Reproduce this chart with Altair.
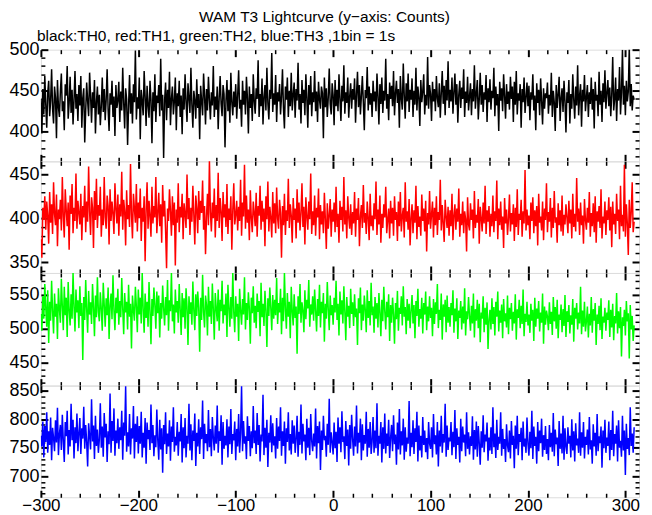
import altair as alt
import pandas as pd

TITLE = "WAM T3 Lightcurve (y\u2212axis: Counts)"
SUBTITLE = "black:TH0, red:TH1, green:TH2, blue:TH3 ,1bin = 1s"
T_START = -300  # first 1 s bin

TH0 = [
440,398,452,421,468,433,405,447,462,419,438,476,428,410,455,441,392,463,430,418,
449,471,425,437,402,458,444,480,416,435,467,423,451,409,439,474,428,446,413,457,
432,468,405,441,453,387,426,460,437,419,472,444,411,448,429,463,398,436,455,421,
445,408,431,466,424,452,414,439,476,427,401,447,433,462,418,443,395,457,429,438,
461,412,449,426,478,435,404,453,440,384,431,469,422,447,410,458,436,499,415,442,
428,466,391,451,437,420,474,443,407,456,432,417,462,439,386,448,425,470,412,444,
435,457,419,489,426,445,368,438,460,414,451,429,473,408,440,455,421,437,466,402,
447,431,462,418,444,397,453,427,470,436,412,459,441,423,478,433,405,450,438,416,
464,429,446,391,456,437,420,471,444,409,452,426,467,439,415,448,432,480,418,443,
427,455,403,441,468,434,419,457,446,381,438,463,425,451,411,472,436,420,449,430,
458,416,444,475,428,439,406,462,433,450,421,467,441,398,455,429,446,413,470,437,
422,453,440,487,418,446,431,465,409,442,457,426,478,435,415,451,440,496,424,447,
433,469,412,448,437,458,421,443,476,429,404,455,439,466,418,450,431,472,426,445,
460,417,452,438,484,427,446,410,463,435,451,420,470,441,405,457,433,468,419,448,
436,474,425,449,412,461,439,428,455,447,392,466,430,453,418,442,477,434,421,459,
444,408,463,431,451,425,470,440,413,456,437,481,422,448,435,466,417,443,459,428,
452,439,465,411,446,473,430,457,421,444,468,436,402,451,441,479,426,455,433,447,
418,462,437,449,425,471,443,409,458,434,466,423,450,438,489,428,446,414,460,440,
456,431,474,420,447,462,435,452,405,468,441,427,483,444,416,459,437,471,424,451,
439,465,418,450,433,478,426,455,442,407,463,436,449,470,421,445,432,491,428,457,
446,413,461,437,452,425,468,441,430,459,417,447,474,434,456,420,463,438,486,429,
451,437,466,422,448,471,433,458,411,445,462,429,454,440,476,418,449,435,467,426,
443,459,420,452,437,481,428,446,463,415,440,472,433,457,424,448,439,469,412,453,
436,464,427,450,441,478,419,455,432,446,401,461,438,453,425,470,444,416,458,434,
449,427,467,440,455,412,461,433,474,421,447,438,458,405,452,436,466,423,442,460,
431,456,414,448,439,470,426,444,402,459,435,451,420,465,437,409,453,428,447,441,
460,422,445,432,472,418,450,436,401,457,429,446,467,413,441,453,424,462,437,399,
448,435,463,410,446,428,470,439,416,455,432,481,420,444,458,406,451,437,469,425,
442,457,418,448,434,466,427,452,404,461,438,445,419,473,433,450,412,459,436,475,
428,447,463,431,454,419,445,491,426,440,466,413,452,438,479,421,448,500,433,456,
420,462,437,449,503,431,458,426,444,439]

TH1 = [
376,355,412,398,425,387,419,403,371,430,395,416,382,441,405,392,427,368,410,399,
421,386,447,402,378,433,409,391,418,364,426,405,439,383,412,397,451,388,420,406,
393,428,375,414,401,437,384,419,396,459,407,381,424,412,366,431,398,445,389,415,
403,436,379,410,392,447,401,388,426,414,370,433,397,419,405,382,440,411,394,427,
380,416,402,453,387,421,408,369,432,399,415,390,462,404,377,428,411,395,439,385,
418,400,434,374,412,396,425,351,409,441,388,420,403,379,436,394,414,401,447,383,
406,429,391,416,372,438,402,420,386,343,411,397,433,408,380,425,392,418,346,410,
395,440,384,413,401,428,376,417,405,389,450,399,423,381,412,396,437,404,370,426,
411,383,431,398,420,406,443,387,414,359,402,428,392,466,407,385,418,400,434,378,
415,397,452,389,423,408,374,430,401,416,390,439,382,411,398,425,364,409,440,393,
404,420,386,413,397,444,380,418,402,461,388,426,395,410,375,432,400,384,419,406,
391,429,379,414,403,437,387,420,396,411,368,425,399,442,385,413,401,378,430,394,
417,383,435,400,388,421,406,355,414,392,428,381,409,397,445,389,416,403,372,423,
398,411,377,433,395,418,386,406,440,390,413,370,424,402,387,419,399,451,382,408,
392,426,380,412,401,434,376,415,393,408,383,429,399,365,417,388,403,422,379,410,
396,418,384,436,390,405,372,420,398,413,385,447,393,409,377,425,401,388,416,381,
407,394,430,379,411,398,423,368,402,415,389,438,395,406,382,419,400,375,428,391,
403,386,417,399,442,381,410,393,426,372,405,389,416,401,436,383,398,411,377,420,
394,412,380,425,398,407,374,419,391,430,385,403,412,378,441,396,408,387,422,369,
400,416,383,409,395,437,376,414,390,402,380,427,397,411,385,420,362,406,393,431,
388,404,419,378,412,392,425,381,407,398,444,386,415,394,373,421,402,389,413,380,
409,391,428,375,403,416,387,411,396,434,379,405,392,419,383,408,399,362,424,393,
386,417,398,410,377,431,389,404,395,422,371,413,400,385,418,394,437,382,409,396,
414,379,405,391,426,384,408,397,443,376,411,392,419,387,402,366,423,394,410,381,
399,427,385,406,393,416,374,412,390,433,381,405,398,421,379,408,394,455,386,410,
392,403,376,418,397,424,383,409,391,414,369,428,395,402,386,419,375,411,398,440,
384,407,396,423,378,412,389,431,395,401,372,417,392,409,385,426,380,404,393,416,
401,383,420,394,410,377,428,390,405,385,446,396,411,381,418,392,403,371,422,398,
387,412,395,430,379,406,391,417,384,425,372,408,396,414,389,433,377,402,394,419,
381,409,398,424,386,413,367,419,393,405,382,428,397,410,376,437,391,404,385,461,
379,416,394,358,421,389,407,441,384,396]

TH2 = [
522,497,548,515,566,531,503,557,479,540,512,571,526,493,552,518,537,485,560,529,
509,574,533,498,562,520,546,488,569,527,505,551,515,583,532,496,558,524,542,501,
563,519,538,454,547,513,572,528,494,556,521,539,507,566,532,489,549,517,576,525,
511,554,529,497,568,536,503,545,520,561,485,534,552,514,579,527,498,546,523,559,
506,541,517,575,530,492,553,524,540,499,565,518,537,471,549,528,512,562,533,495,
558,521,546,508,583,529,494,552,516,540,503,569,526,477,544,519,561,535,500,555,
523,549,487,538,515,564,530,505,547,520,572,497,542,526,583,511,536,493,558,524,
541,509,566,528,491,553,517,545,500,560,532,476,548,522,539,506,570,527,498,551,
519,555,531,466,546,513,580,525,502,549,535,490,562,518,541,507,567,529,484,553,
530,511,558,497,543,526,571,508,536,520,552,488,565,532,503,547,515,583,524,495,
548,518,537,482,559,527,506,544,521,576,499,538,513,554,530,478,546,523,563,509,
534,501,552,525,541,489,568,517,537,504,556,528,473,545,519,561,531,498,550,515,
543,520,575,507,538,524,559,492,546,511,583,529,500,553,518,540,486,562,526,505,
551,516,533,463,548,522,566,509,539,527,495,557,514,543,530,572,503,536,521,548,
512,558,527,496,544,519,565,502,540,523,553,481,537,515,569,528,498,549,520,535,
506,546,524,571,513,537,490,555,521,542,508,563,526,483,547,518,534,501,559,522,
539,504,551,517,530,476,545,523,561,498,536,512,549,528,495,557,516,541,505,568,
520,533,494,547,515,538,502,553,524,489,543,511,562,526,499,540,517,551,482,535,
509,546,521,478,538,514,556,497,531,522,548,505,563,518,532,492,544,512,537,501,
527,550,508,535,486,541,519,559,503,529,515,546,493,538,521,555,498,533,511,548,
516,531,489,544,507,539,522,566,501,528,513,552,484,536,518,543,495,549,509,532,
503,538,520,557,494,530,511,545,485,527,516,541,499,533,508,560,490,526,514,547,
519,497,534,508,552,487,529,512,543,501,537,480,524,515,548,495,531,506,539,470,
513,528,499,545,507,532,490,540,518,555,496,527,509,536,486,544,511,523,502,549,
492,531,514,538,497,525,508,551,484,529,516,543,501,534,507,558,489,522,510,540,
505,521,494,537,512,528,482,546,503,530,515,541,496,524,509,552,478,533,506,527,
518,498,539,507,525,491,547,511,532,500,543,486,521,513,536,495,529,504,550,488,
526,510,535,493,520,506,544,481,531,515,538,499,524,508,562,492,527,503,540,496,
511,533,487,522,505,547,494,529,512,538,476,521,507,534,498,545,485,518,509,531,
497,524,513,542,488,528,502,537,483,519,508,553,493,526,501,532,459,517,504,528,
490,541,511,523,456,535,499,519,482,505]

TH3 = [
771,752,796,733,788,760,812,741,779,755,803,728,785,767,744,798,759,820,737,774,
790,746,808,762,725,795,770,815,738,781,752,827,763,799,731,786,758,810,744,775,
802,739,784,766,822,748,790,759,717,793,770,747,835,761,789,730,806,753,782,741,
765,828,750,787,734,811,768,792,725,779,756,845,741,797,762,819,736,780,758,801,
748,786,763,815,729,794,771,858,743,777,752,809,738,784,766,823,731,792,760,805,
740,788,757,813,733,776,750,802,722,794,765,781,746,826,758,790,735,772,751,817,
763,729,799,747,784,706,790,756,812,739,775,752,798,727,787,760,821,743,769,754,
795,736,778,761,809,724,786,749,802,733,771,757,827,745,791,728,780,762,810,718,
776,752,800,739,786,765,833,730,792,758,774,744,816,751,783,735,804,767,745,789,
757,824,741,779,762,807,720,795,748,771,754,800,733,787,756,818,739,774,763,796,
728,783,752,809,741,776,858,744,797,757,770,730,805,762,788,735,779,749,823,758,
780,739,811,755,790,726,773,761,843,737,785,750,799,716,776,759,807,742,793,754,
770,731,802,748,787,762,821,736,779,753,796,722,784,760,812,745,774,738,798,757,
789,741,766,806,734,778,755,826,740,792,761,773,728,801,750,785,737,809,762,744,
775,752,819,731,788,758,796,711,780,746,806,763,771,734,792,755,836,741,777,760,
738,794,749,778,725,803,757,786,742,814,760,770,730,797,753,782,719,790,748,808,
765,736,787,752,824,740,776,759,801,728,791,745,772,757,813,734,783,750,795,739,
762,804,741,780,749,828,736,771,757,795,724,786,748,810,740,775,753,799,732,768,
790,744,807,756,773,720,794,747,818,738,779,754,801,729,786,743,768,757,832,735,
776,751,798,739,784,760,813,726,789,745,771,733,804,755,780,742,767,730,795,757,
748,786,733,809,756,772,738,795,717,780,752,806,741,774,759,827,734,789,746,768,
761,795,737,778,751,816,730,784,755,769,724,801,744,787,759,773,735,812,748,777,
738,770,753,805,729,781,747,796,734,788,758,720,779,750,807,742,773,761,794,727,
768,745,786,739,821,751,775,732,799,746,769,757,812,736,783,748,765,725,791,754,
742,780,731,797,755,771,714,789,748,806,737,774,760,785,728,796,752,766,741,803,
757,736,778,749,815,730,787,753,769,722,795,744,780,758,801,734,772,746,788,739,
765,728,790,751,776,743,811,735,782,756,768,718,797,748,775,740,806,729,784,752,
739,786,757,771,733,800,745,779,726,793,754,766,741,812,736,777,750,795,731,769,
755,782,738,804,747,763,722,791,752,776,736,809,744,770,758,787,715,780,749,799,
741,768,753,796,728,781,746,815,735,774,757,789,726,798,750,762,734,806,745,780,
702,792,748,767,737,821,753,775,741,786]

SERIES = [TH0, TH1, TH2, TH3]
COLORS = ["#000000", "#ff0000", "#00ff00", "#0000ff"]
Y_DOMAINS = [(364, 500), (337.5, 465), (416, 582.5), (663, 859)]
X_DOMAIN = [-300, 314]
X_MAJOR = [-300, -200, -100, 0, 100, 200, 300]
X_MINOR = [-280, -260, -240, -220, -180, -160, -140, -120, -80, -60, -40, -20,
           20, 40, 60, 80, 120, 140, 160, 180, 220, 240, 260, 280]
HEIGHTS = [112, 112, 113, 112]
WIDTH = 600
FONT = "Liberation Sans"
MAJ, MIN = 7, 4


def axis(orient, values, size, width, labels=False, pad=0, fs=18):
    kw = dict(orient=orient, values=values, tickSize=size, offset=-size,
              domain=False, grid=False, ticks=True, tickColor="black",
              tickWidth=width, labels=labels)
    if labels:
        kw.update(labelFont=FONT, labelFontSize=fs, labelColor="black",
                  labelPadding=pad, format="d", labelFlush=False,
                  labelOverlap=False)
    return alt.Axis(**kw)


def panel(vals, color, ydom, h, is_bottom, title=None):
    df = pd.DataFrame({"t": [T_START + i for i in range(len(vals))], "c": vals})
    y_major = [v for v in range(0, 1000, 50) if ydom[0] <= v <= ydom[1]]
    y_minor = [v for v in range(0, 1000, 10) if ydom[0] <= v <= ydom[1] and v % 50]
    xs = alt.Scale(domain=X_DOMAIN, nice=False, zero=False)
    ys = alt.Scale(domain=list(ydom), nice=False, zero=False)

    def layer(xa, ya, visible):
        return alt.Chart(df).mark_line(
            color=color, strokeWidth=1.5, clip=True,
            strokeOpacity=1 if visible else 0
        ).encode(
            x=alt.X("t:Q", scale=xs, axis=xa, title=None),
            y=alt.Y("c:Q", scale=ys, axis=ya, title=None),
        )

    layers = [
        layer(axis("bottom", X_MAJOR, MAJ, 2, labels=is_bottom, pad=0, fs=17),
              axis("left", y_major, MAJ, 2, labels=True, pad=2), True),
        layer(axis("bottom", X_MINOR, MIN, 1.5), axis("left", y_minor, MIN, 1.5), False),
        layer(axis("top", X_MAJOR, MAJ, 2), axis("right", y_major, MAJ, 2), False),
        layer(axis("top", X_MINOR, MIN, 1.5), axis("right", y_minor, MIN, 1.5), False),
    ]
    props = dict(width=WIDTH, height=h)
    if title is not None:
        props["title"] = title
    return alt.layer(*layers).resolve_axis(x="independent", y="independent").properties(**props)


sub = alt.TitleParams(SUBTITLE, anchor="start", font=FONT, fontSize=15.5,
                      fontWeight="normal", color="black", offset=-4, dx=-4,
                      frame="group")
panels = []
for k in range(4):
    panels.append(panel(SERIES[k], COLORS[k], Y_DOMAINS[k], HEIGHTS[k], k == 3,
                        title=sub if k == 0 else None))

chart = alt.vconcat(*panels, spacing=0, bounds="flush").properties(
    title=alt.TitleParams(TITLE, anchor="middle", font=FONT, fontSize=15.5,
                          fontWeight="normal", color="black", offset=3),
    autosize=alt.AutoSizeParams(type="pad"),
    padding={"left": 0, "top": 1, "right": 3, "bottom": 1},
).configure_view(stroke="black", strokeWidth=1.5).configure(background="white")

chart.save("out.html", embed_options={"renderer": "svg", "actions": False})
